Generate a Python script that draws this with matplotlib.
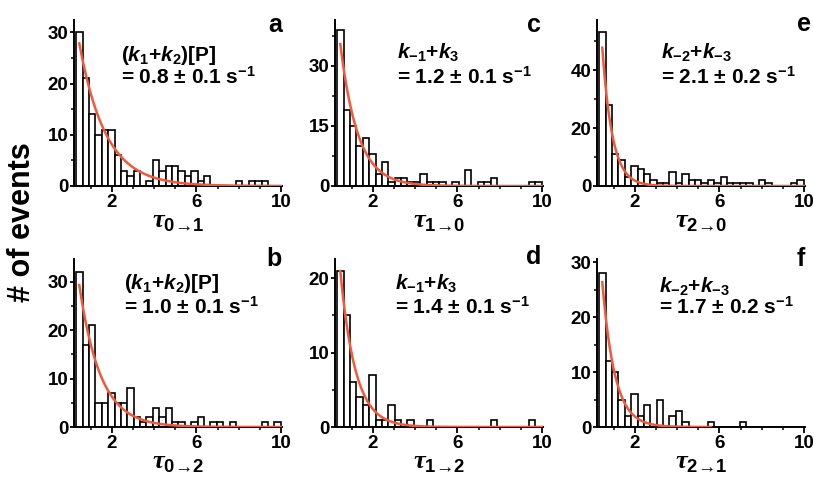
import matplotlib
matplotlib.use('Agg')
import matplotlib.pyplot as plt
import numpy as np
from matplotlib.ticker import MultipleLocator

plt.rcParams['font.family'] = ['Liberation Sans', 'DejaVu Sans']
plt.rcParams['font.weight'] = 'bold'
plt.rcParams['mathtext.fontset'] = 'custom'
plt.rcParams['mathtext.rm'] = 'Liberation Sans:bold'
plt.rcParams['mathtext.it'] = 'Liberation Sans:italic:bold'
plt.rcParams['mathtext.bf'] = 'Liberation Sans:bold'
plt.rcParams['mathtext.cal'] = 'Liberation Serif:italic:bold'

# dwell time histograms, bins in seconds
bin_start = 0.3
bin_width = 0.303

counts_a = [30, 21, 14, 10, 11, 11, 6, 3, 2, 3, 0, 1, 5, 3, 4, 4, 3, 2, 3, 1, 2, 0, 0, 0, 0, 1, 0, 1, 1, 1, 0, 0]
counts_b = [32, 17, 21, 5, 5, 7, 5, 5, 8, 2, 1, 2, 4, 2, 4, 1, 1, 0, 1, 2, 0, 1, 1, 0, 1, 0, 0, 0, 0, 1, 0, 1]
counts_c = [39, 19, 15, 10, 12, 8, 3, 6, 1, 2, 2, 1, 1, 3, 1, 1, 1, 0, 1, 0, 4, 0, 1, 1, 2, 0, 0, 0, 0, 0, 1, 1]
counts_d = [21, 15, 6, 4, 3, 7, 1, 1, 3, 1, 0, 1, 0, 0, 1, 0, 0, 0, 0, 0, 0, 0, 0, 0, 1, 0, 0, 0, 0, 0, 1, 0]
counts_e = [53, 28, 11, 9, 3, 7, 6, 4, 2, 1, 1, 5, 1, 4, 2, 2, 1, 2, 1, 3, 1, 1, 1, 1, 0, 2, 1, 0, 0, 0, 1, 2]
counts_f = [28, 12, 10, 5, 2, 6, 2, 4, 0, 5, 0, 2, 3, 1, 0, 0, 0, 1, 0, 0, 0, 0, 1, 0, 0, 0, 0, 0, 0, 0, 0, 0]

# single exponential fits: rate (1/s) and amplitude
rates = [0.8, 1.0, 1.2, 1.4, 2.1, 1.7]
amplitudes = [39.9, 46.0, 60.9, 39.4, 122.8, 56.7]
fit_end = [10, 10, 10, 10, 10, 5.6]

letters = ['a', 'b', 'c', 'd', 'e', 'f']
xlabels = [r'$\mathcal{\tau}_{\mathrm{0→1}}$', r'$\mathcal{\tau}_{\mathrm{0→2}}$',
           r'$\mathcal{\tau}_{\mathrm{1→0}}$', r'$\mathcal{\tau}_{\mathrm{1→2}}$',
           r'$\mathcal{\tau}_{\mathrm{2→0}}$', r'$\mathcal{\tau}_{\mathrm{2→1}}$']
rate_names = ['($k_1$+$k_2$)[P]', '($k_1$+$k_2$)[P]',
              '$k_{-1}$+$k_3$', '$k_{-1}$+$k_3$',
              '$k_{-2}$+$k_{-3}$', '$k_{-2}$+$k_{-3}$']
rate_values = ['= 0.8 ± 0.1 s$^{-1}$', '= 1.0 ± 0.1 s$^{-1}$',
               '= 1.2 ± 0.1 s$^{-1}$', '= 1.4 ± 0.1 s$^{-1}$',
               '= 2.1 ± 0.2 s$^{-1}$', '= 1.7 ± 0.2 s$^{-1}$']
all_counts = [counts_a, counts_b, counts_c, counts_d, counts_e, counts_f]

# layout per panel (a,b,c,d,e,f)
W, H = 814, 479
col_left = [74, 74, 335, 335, 597, 597]
row_top = [20, 259, 20, 259, 20, 259]
row_bot = [186, 427, 186, 427, 186, 427]
ytops = [32.4, 34.7, 41.5, 22.6, 57.3, 30.6]
ymajor = [10, 10, 15, 10, 20, 10]
yminor = [5, 5, 7.5, 5, 10, 5]
text_x = [0.224, 0.24, 0.30, 0.29, 0.306, 0.30]
line1_y = [0.755, 0.82, 0.765, 0.82, 0.765, 0.80]
line2_y = [0.615, 0.675, 0.615, 0.675, 0.615, 0.672]
letter_pos = [(1.0, 0.93), (1.0, 0.96), (0.99, 0.93), (0.99, 0.97), (1.03, 0.935), (1.0, 0.96)]

fig = plt.figure(figsize=(W / 100, H / 100), dpi=100)

for i in range(6):
    ax = fig.add_axes([col_left[i] / W, 1 - row_bot[i] / H, 208 / W, (row_bot[i] - row_top[i]) / H])
    counts = np.array(all_counts[i])
    edges = bin_start + bin_width * np.arange(len(counts))
    ax.bar(edges, counts, width=bin_width, align='edge', color='white', edgecolor='black', linewidth=1.2, zorder=2)

    t = np.linspace(0.45, fit_end[i], 300)
    ax.plot(t, amplitudes[i] * np.exp(-rates[i] * t), color='#f05a3c', linewidth=1.8, zorder=3)

    ax.set_xlim(0.2, 10.05)
    ax.set_ylim(0, ytops[i])
    ax.xaxis.set_major_locator(plt.FixedLocator([2, 6, 10]))
    ax.xaxis.set_minor_locator(MultipleLocator(1))
    ax.yaxis.set_major_locator(MultipleLocator(ymajor[i]))
    ax.yaxis.set_minor_locator(MultipleLocator(yminor[i]))
    ax.tick_params(axis='x', which='major', direction='out', length=4, width=1.3, pad=2, labelsize=13.5)
    ax.tick_params(axis='x', which='minor', direction='out', length=2.5, width=1.1)
    ax.tick_params(axis='y', which='major', direction='out', length=3, width=1.3, pad=1, labelsize=13.5)
    ax.tick_params(axis='y', which='minor', direction='out', length=2, width=1.1)
    for s in ['top', 'right']:
        ax.spines[s].set_visible(False)
    for s in ['left', 'bottom']:
        ax.spines[s].set_linewidth(1.4)

    ax.set_xlabel(xlabels[i], fontsize=19, labelpad=-1)
    ax.text(text_x[i], line1_y[i], rate_names[i], transform=ax.transAxes, fontsize=15, ha='left', va='baseline')
    ax.text(text_x[i], line2_y[i], rate_values[i], transform=ax.transAxes, fontsize=15, ha='left', va='baseline')
    ax.text(letter_pos[i][0], letter_pos[i][1], letters[i], transform=ax.transAxes, fontsize=18,
            ha='right', va='baseline')

fig.text(0.027, 0.536, '# of events', rotation=90, fontsize=22, ha='center', va='center')

fig.savefig('out.png', dpi=100)
